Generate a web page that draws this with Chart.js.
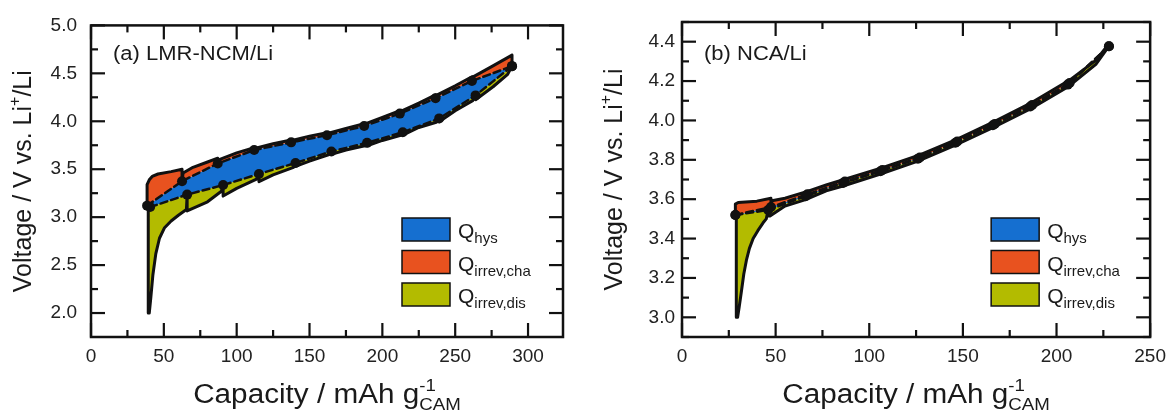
<!DOCTYPE html>
<html>
<head>
<meta charset="utf-8">
<script src="https://cdn.jsdelivr.net/npm/chart.js@4.4.1/dist/chart.umd.min.js"></script>
<style>
 html, body { margin: 0; padding: 0; background: #fff; }
 #wrap { position: relative; width: 1174px; height: 412px; }
 #chartA { position: absolute; left: 0; top: 0; }
 #chartB { position: absolute; left: 590px; top: 0; }
</style>
</head>
<body>
<div id="wrap">
 <canvas id="chartA" width="590" height="412"></canvas>
 <canvas id="chartB" width="584" height="412"></canvas>
</div>
<script>
// ---- (a) LMR-NCM/Li : [capacity mAh/g, voltage V] ----
var lmrCharge = [[38.5,3.12],[38.5,3.34],[40,3.39],[42,3.425],[46,3.45],[55,3.475],[62.5,3.50],[62.5,3.375],[63.2,3.46],[70,3.52],[80,3.575],[87,3.615],[87,3.56],[88,3.60],[100,3.67],[112,3.725],[112,3.70],[113,3.72],[125,3.765],[137.4,3.805],[137.4,3.78],[138,3.80],[150,3.845],[162,3.88],[162,3.855],[163,3.875],[175,3.925],[187.5,3.975],[187.5,3.95],[188,3.97],[200,4.04],[212,4.11],[212,4.08],[213,4.105],[225,4.19],[236.5,4.275],[236.5,4.24],[237,4.27],[250,4.37],[261.5,4.465],[261.5,4.42],[262,4.46],[275,4.57],[289,4.69],[289,4.575]];
var lmrDischarge = [[289,4.575],[286,4.49],[276,4.36],[264,4.225],[264,4.27],[262,4.215],[250,4.11],[239,3.995],[239,4.03],[237,3.99],[225,3.935],[214,3.855],[214,3.885],[212,3.85],[200,3.80],[189.5,3.745],[189.5,3.775],[188,3.745],[175,3.70],[165,3.655],[165,3.685],[163,3.65],[150,3.585],[140.4,3.53],[140.4,3.565],[139,3.52],[125,3.44],[115.3,3.37],[115.3,3.45],[114,3.40],[100,3.30],[90.7,3.22],[90.7,3.335],[89.5,3.27],[80,3.16],[66,3.065],[66,3.235],[65.5,3.08],[60,3.02],[55,2.96],[50.5,2.89],[47,2.78],[44.5,2.62],[42.5,2.40],[41,2.15],[40,2.0],[39.3,2.0],[39.3,3.11],[40.6,3.105]];
var lmrOcvCha = [[38.5,3.12],[62.5,3.375],[87,3.56],[112,3.70],[137.4,3.78],[162,3.855],[187.5,3.95],[212,4.08],[236.5,4.24],[261.5,4.42],[289,4.575]];
var lmrOcvDis = [[40.6,3.105],[66,3.235],[90.7,3.335],[115.3,3.45],[140.4,3.565],[165,3.685],[189.5,3.775],[214,3.885],[239,4.03],[264,4.27],[289,4.575]];
var lmrXTicks = [0, 50, 100, 150, 200, 250, 300];
var lmrXMinor = [25, 75, 125, 175, 225, 275];
var lmrYTicks = [2.0, 2.5, 3.0, 3.5, 4.0, 4.5, 5.0];
var lmrYMinor = [2.25, 2.75, 3.25, 3.75, 4.25, 4.75];

// ---- (b) NCA/Li ----
var ncaCharge = [[28.5,3.52],[28.5,3.575],[30,3.583],[40,3.59],[47.5,3.605],[47.5,3.56],[48,3.592],[55,3.605],[67,3.64],[77,3.672],[87,3.702],[107,3.76],[127,3.825],[147,3.905],[167,3.995],[187,4.092],[207,4.205],[221,4.305],[228,4.39],[228,4.377]];
var ncaDischarge = [[228,4.377],[221,4.285],[206,4.17],[186,4.058],[166,3.963],[146,3.874],[126,3.793],[106,3.728],[86,3.667],[77,3.642],[66,3.598],[55,3.565],[47,3.515],[46,3.515],[46,3.545],[45,3.50],[43.3,3.48],[40.5,3.44],[38,3.40],[36,3.35],[34.4,3.29],[33,3.22],[31.7,3.13],[30.5,3.05],[29.7,3.0],[29,3.0],[29,3.52]];
var ncaOcvCha = [[28.5,3.52],[47.5,3.56],[67,3.625],[87,3.69],[107,3.748],[127,3.812],[147,3.893],[167,3.982],[187,4.078],[207,4.19],[228,4.377]];
var ncaOcvDis = [[28.5,3.52],[46,3.545],[66,3.615],[86,3.682],[106,3.742],[126,3.806],[146,3.887],[166,3.976],[186,4.071],[206,4.182],[228,4.377]];
var ncaXTicks = [0, 50, 100, 150, 200, 250];
var ncaXMinor = [25, 75, 125, 175, 225];
var ncaYTicks = [3.0, 3.2, 3.4, 3.6, 3.8, 4.0, 4.2, 4.4];
var ncaYMinor = [2.9, 3.1, 3.3, 3.5, 3.7, 3.9, 4.1, 4.3, 4.5];

var legendNames = [["Q", "hys"], ["Q", "irrev,cha"], ["Q", "irrev,dis"]];
var BLUE = "#156fd0", ORANGE = "#e8521f", GREEN = "#b3bb00";
var FONT = "'Liberation Sans', Arial, sans-serif";

function pts(arr) {
 return arr.map(function (p) { return { x: p[0], y: p[1] }; });
}
function reversed(arr) {
 return arr.slice().reverse();
}

function runsWidth(ctx, runs) {
 var cx = 0, start = 0, maxEnd = 0;
 runs.forEach(function (r) {
  ctx.font = r.size + "px " + FONT;
  if (r.stack) cx = start;
  start = cx;
  cx += ctx.measureText(r.text).width;
  maxEnd = Math.max(maxEnd, cx);
 });
 return maxEnd;
}
function drawRuns(ctx, x, y, runs) {
 var cx = x, start = x;
 runs.forEach(function (r) {
  ctx.font = r.size + "px " + FONT;
  if (r.stack) cx = start;
  start = cx;
  ctx.fillText(r.text, cx, y + (r.dy || 0));
  cx += ctx.measureText(r.text).width;
 });
}
// text in the reference is a little wide, so stretch it sideways
function drawStretched(ctx, x, y, runs, sx) {
 ctx.save();
 ctx.translate(x, y);
 ctx.scale(sx, 1);
 drawRuns(ctx, 0, 0, runs);
 ctx.restore();
}

function makeFrame(cfg) {
 return {
  id: "frame" + cfg.id,
  afterDraw: function (chart) {
   var ctx = chart.ctx, a = chart.chartArea;
   var xs = chart.scales.x, ys = chart.scales.y;
   ctx.save();
   ctx.strokeStyle = "#111";
   ctx.lineWidth = 2.2;
   function tick(px, py, dx, dy) {
    ctx.beginPath(); ctx.moveTo(px, py); ctx.lineTo(px + dx, py + dy); ctx.stroke();
   }
   cfg.xTicks.forEach(function (v) { var p = xs.getPixelForValue(v); tick(p, a.bottom, 0, -14); tick(p, a.top, 0, 14); });
   cfg.xMinor.forEach(function (v) { var p = xs.getPixelForValue(v); tick(p, a.bottom, 0, -7); tick(p, a.top, 0, 7); });
   cfg.yTicks.forEach(function (v) { var p = ys.getPixelForValue(v); tick(a.left, p, 14, 0); tick(a.right, p, -14, 0); });
   cfg.yMinor.forEach(function (v) { var p = ys.getPixelForValue(v); tick(a.left, p, 7, 0); tick(a.right, p, -7, 0); });
   ctx.lineWidth = 2.5;
   ctx.strokeRect(a.left, a.top, a.right - a.left, a.bottom - a.top);

   ctx.fillStyle = "#1a1a1a";
   ctx.textBaseline = "alphabetic";
   ctx.textAlign = "left";
   // panel label
   drawStretched(ctx, a.left + 22, 60, [{ text: cfg.label, size: 20 }], 1.1);

   // x title
   var sx = 1.1;
   var xr = [{ text: "Capacity / mAh g", size: 27 }, { text: "-1", size: 17, dy: -12 }, { text: "CAM", size: 17, dy: 7, stack: true }];
   var xw = runsWidth(ctx, xr) * sx;
   drawStretched(ctx, (a.left + a.right) / 2 - xw / 2, 403, xr, sx);

   // y title
   var yr = [{ text: "Voltage / V vs. Li", size: 25 }, { text: "+", size: 16, dy: -11 }, { text: "/Li", size: 25 }];
   var yw = runsWidth(ctx, yr);
   ctx.save();
   ctx.translate(a.left - 69, (a.top + a.bottom) / 2);
   ctx.rotate(-Math.PI / 2);
   drawRuns(ctx, -yw / 2, 9, yr);
   ctx.restore();

   // legend
   var colors = [BLUE, ORANGE, GREEN];
   var lx = a.right - cfg.legendRight;
   [218, 250.5, 283].forEach(function (top, i) {
    ctx.fillStyle = colors[i];
    ctx.fillRect(lx, top, 48, 23);
    ctx.lineWidth = 1.5;
    ctx.strokeStyle = "#111";
    ctx.strokeRect(lx, top, 48, 23);
    ctx.fillStyle = "#1a1a1a";
    drawRuns(ctx, lx + 56, top + 20, [{ text: legendNames[i][0], size: 21 }, { text: legendNames[i][1], size: 15, dy: 5 }]);
   });
   ctx.restore();
  }
 };
}

function buildPanel(canvasId, d) {
 // Chart.js paints the first dataset last, so lines come first and fills after
 var datasets = [
  { data: pts(d.ocvCha), borderColor: "#111", borderWidth: 2.5, borderDash: [7, 4], pointRadius: 5, pointBackgroundColor: "#111", pointBorderWidth: 0, fill: false },
  { data: pts(d.ocvDis), borderColor: "#111", borderWidth: 2.5, borderDash: [7, 4], pointRadius: 5, pointBackgroundColor: "#111", pointBorderWidth: 0, fill: false },
  { data: pts(d.charge), borderColor: "#111", borderWidth: 3, pointRadius: 0, fill: false },
  { data: pts(d.discharge), borderColor: "#111", borderWidth: 3, pointRadius: 0, fill: false },
  { data: pts(d.charge.concat(reversed(d.ocvCha))), fill: "shape", backgroundColor: ORANGE, borderWidth: 0, pointRadius: 0 },
  { data: pts(d.ocvCha.concat(reversed(d.ocvDis))), fill: "shape", backgroundColor: BLUE, borderWidth: 0, pointRadius: 0 },
  { data: pts(d.ocvDis.concat(d.discharge)), fill: "shape", backgroundColor: GREEN, borderWidth: 0, pointRadius: 0 }
 ];
 new Chart(document.getElementById(canvasId), {
  type: "line",
  data: { datasets: datasets },
  options: {
   responsive: false,
   animation: false,
   events: [],
   layout: { padding: { top: 22, right: d.padRight, left: 0, bottom: 0 } },
   elements: { line: { tension: 0, borderJoinStyle: "round", borderCapStyle: "round" } },
   plugins: { legend: { display: false }, tooltip: { enabled: false } },
   scales: {
    x: {
     type: "linear", min: d.xMin, max: d.xMax,
     grid: { display: false, drawTicks: false }, border: { display: false },
     ticks: { font: { size: 19, family: FONT }, color: "#222", padding: 8, maxRotation: 0 },
     afterBuildTicks: function (s) { s.ticks = d.xTicks.map(function (v) { return { value: v }; }); },
     afterFit: function (s) { s.height = 75; }
    },
    y: {
     type: "linear", min: d.yMin, max: d.yMax,
     grid: { display: false, drawTicks: false }, border: { display: false },
     ticks: { font: { size: 19, family: FONT }, color: "#222", padding: d.yPad, callback: function (v) { return v.toFixed(1); } },
     afterBuildTicks: function (s) { s.ticks = d.yTicks.map(function (v) { return { value: v }; }); },
     afterFit: function (s) { s.width = d.yWidth; }
    }
   }
  },
  plugins: [makeFrame({ id: canvasId, label: d.label, xTicks: d.xTicks, xMinor: d.xMinor, yTicks: d.yTicks, yMinor: d.yMinor, legendRight: d.legendRight })]
 });
}

buildPanel("chartA", {
 label: "(a) LMR-NCM/Li",
 charge: lmrCharge, discharge: lmrDischarge, ocvCha: lmrOcvCha, ocvDis: lmrOcvDis,
 xMin: 0, xMax: 324, yMin: 1.75, yMax: 5.0,
 xTicks: lmrXTicks, xMinor: lmrXMinor, yTicks: lmrYTicks, yMinor: lmrYMinor,
 padRight: 27, yWidth: 91, yPad: 14, legendRight: 161
});
buildPanel("chartB", {
 label: "(b) NCA/Li",
 charge: ncaCharge, discharge: ncaDischarge, ocvCha: ncaOcvCha, ocvDis: ncaOcvDis,
 xMin: 0, xMax: 250, yMin: 2.9, yMax: 4.5,
 xTicks: ncaXTicks, xMinor: ncaXMinor, yTicks: ncaYTicks, yMinor: ncaYMinor,
 padRight: 22, yWidth: 92, yPad: 7, legendRight: 159
});
</script>
</body>
</html>
